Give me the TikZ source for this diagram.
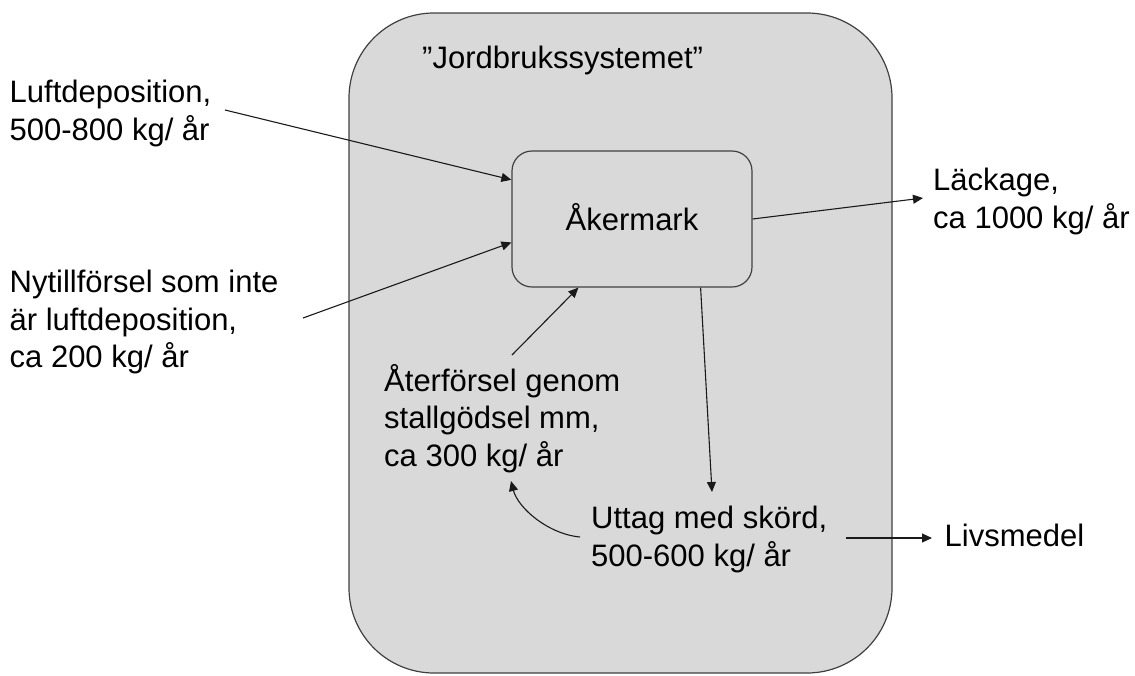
\documentclass[tikz,border=0pt]{standalone}
\usepackage{fontspec}
\setmainfont{Liberation Sans}
\usetikzlibrary{arrows.meta}
\definecolor{boxfill}{HTML}{D9D9D9}
\definecolor{boxline}{HTML}{404040}
\definecolor{arrline}{HTML}{1A1A1A}
\newcommand{\firstl}{\rule{0pt}{30pt}}
\begin{document}
\begin{tikzpicture}[x=1pt,y=-1pt,
  bigbox/.style={draw=boxline, fill=boxfill, line width=1.2pt, rounded corners=85pt},
  akerbox/.style={draw=boxline, fill=boxfill, line width=1.2pt, rounded corners=20pt,
    minimum width=240pt, minimum height=136pt, inner sep=0pt,
    font=\fontsize{31}{37.5}\selectfont, text height=22pt, text depth=0pt},
  lbl/.style={anchor=north west, inner sep=0pt, align=left,
    font=\fontsize{31}{37.5}\selectfont},
  arr/.style={draw=arrline, line width=1.1pt, -{Triangle[length=10pt,width=9pt]}}
]
\useasboundingbox (0,0) rectangle (1135,675);
\draw[bigbox] (349,13) rectangle (892,673);
\node[akerbox] (aker) at (632,219) {Åkermark};

\node[lbl] (jord) at (422,38) {\firstl”Jordbrukssystemet”};
\node[lbl] (luft) at (9.5,72.5) {\firstl Luftdeposition,\\500-800 kg/ år};
\node[lbl] (ny) at (9.5,262.7) {\firstl Nytillförsel som inte\\är luftdeposition,\\ca 200 kg/ år};
\node[lbl] (ater) at (384,361) {\firstl Återförsel genom\\stallgödsel mm,\\ca 300 kg/ år};
\node[lbl] (lack) at (933,160.7) {\firstl Läckage,\\ca 1000 kg/ år};
\node[lbl] (uttag) at (591,498.3) {\firstl Uttag med skörd,\\500-600 kg/ år};
\node[lbl] (livs) at (944.5,516.7) {\firstl Livsmedel};

\coordinate (luftout) at (225,110);
\coordinate (nyout) at (303,318);
\coordinate (aterout) at (512,355);
\coordinate (lackin) at (923,198);
\coordinate (uttagin) at (712,492);
\coordinate (uttagout) at (580,537);
\coordinate (aterin) at (511,481);
\coordinate (livsout) at (846,538);
\coordinate (livsin) at (932,538);

\draw[arr] (luftout) -- (aker.162.1);
\draw[arr] (nyout) -- (aker.191.7);
\draw[arr] (aterout) -- (aker.232.1);
\draw[arr] (aker.east) -- (lackin);
\draw[arr] (aker.315) -- (uttagin);
\draw[arr] (uttagout) .. controls (548,534) and (518,508) .. (aterin);
\draw[arr] (livsout) -- (livsin);
\end{tikzpicture}
\end{document}
